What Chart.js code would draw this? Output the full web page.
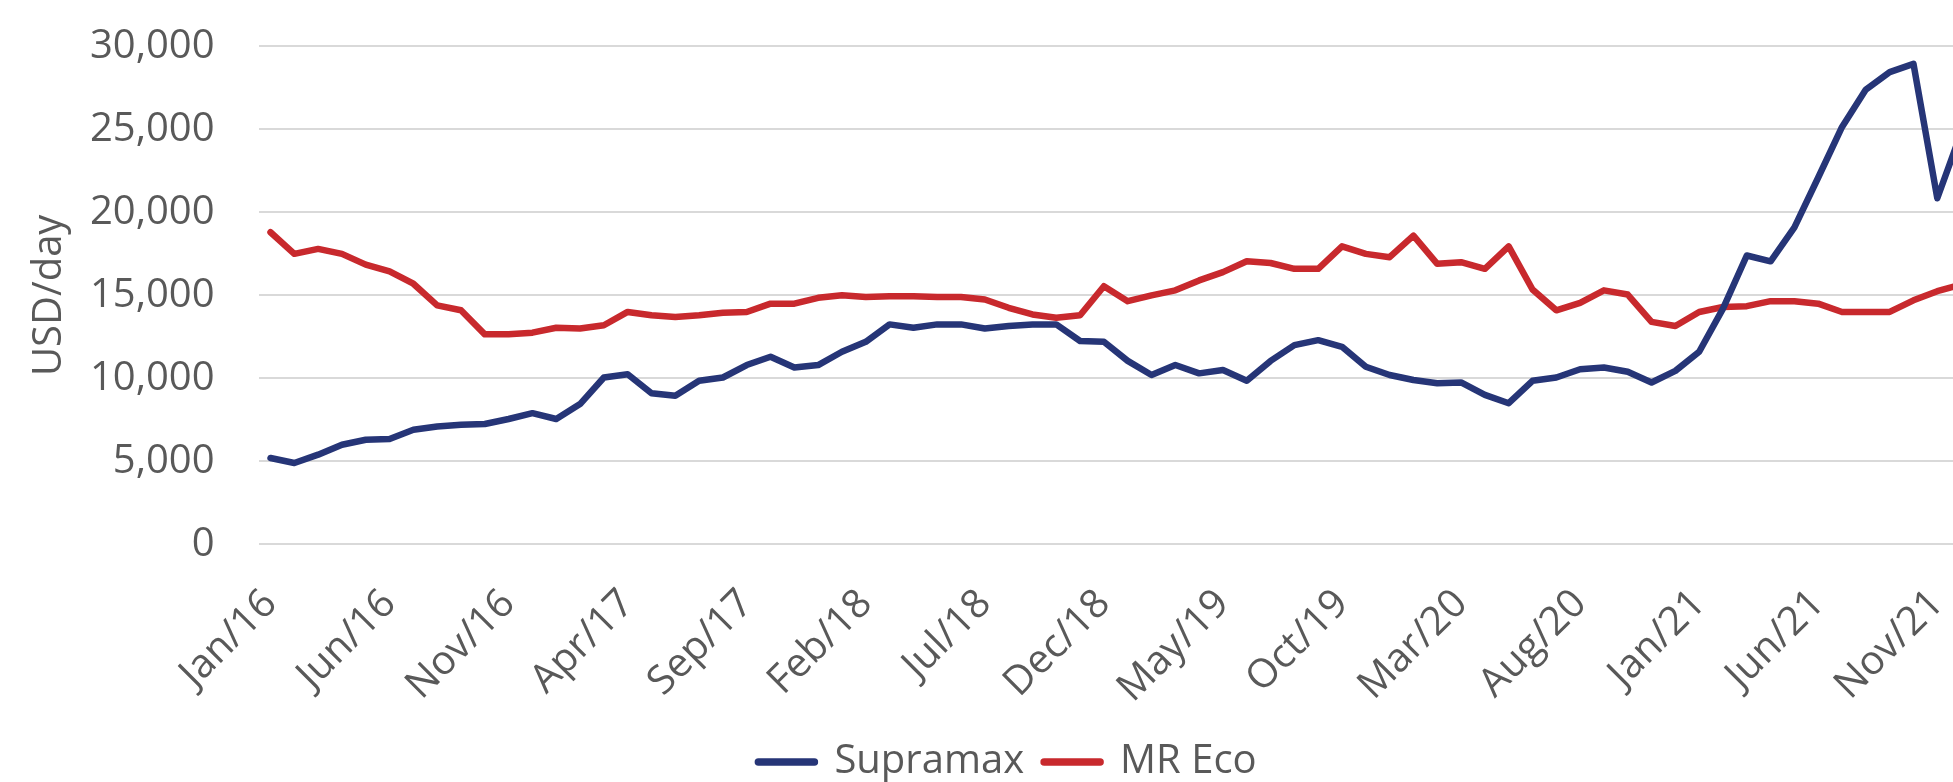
<!DOCTYPE html>
<html>
<head>
<meta charset="utf-8">
<script src="https://cdn.jsdelivr.net/npm/chart.js@4.4.1/dist/chart.umd.min.js"></script>
<style>
  html, body { margin: 0; padding: 0; background: #ffffff; overflow: hidden; }
  #wrap { width: 1953px; height: 782px; overflow: hidden; position: relative; }
  canvas { display: block; }
</style>
</head>
<body>
<div id="wrap"><canvas id="c" width="2015" height="800"></canvas></div>
<script>
// ---- data ----
const monthNames = ['Jan','Feb','Mar','Apr','May','Jun','Jul','Aug','Sep','Oct','Nov','Dec'];
const years = ['16','17','18','19','20','21'];
const categories = [];
for (const y of years) for (const m of monthNames) categories.push(m + '/' + y);

const supramax = [
  5200, 4900, 5400, 6000, 6300, 6350, 6900, 7100, 7200, 7250, 7550, 7900,
  7550, 8450, 10050, 10250, 9100, 8950, 9850, 10050, 10800, 11300, 10650, 10800,
  11600, 12200, 13250, 13050, 13250, 13250, 13000, 13150, 13250, 13250, 12250, 12200,
  11050, 10200, 10800, 10300, 10500, 9850, 11050, 12000, 12300, 11900, 10700, 10200,
  9900, 9700, 9750, 9000, 8500, 9850, 10050, 10550, 10650, 10400, 9750, 10450,
  11600, 14200, 17400, 17050, 19100, 22100, 25150, 27400, 28450, 28950, 20850, 24800
];
const mrEco = [
  18800, 17500, 17800, 17500, 16850, 16450, 15700, 14400, 14100, 12650, 12650, 12750,
  13050, 13000, 13200, 14000, 13800, 13700, 13800, 13950, 14000, 14500, 14500, 14850,
  15000, 14900, 14950, 14950, 14900, 14900, 14750, 14250, 13850, 13650, 13800, 15550,
  14650, 15000, 15300, 15900, 16400, 17050, 16950, 16600, 16600, 17950, 17500, 17300,
  18600, 16900, 17000, 16600, 17950, 15350, 14100, 14550, 15300, 15050, 13400, 13150,
  14000, 14300, 14350, 14650, 14650, 14500, 14000, 14000, 14000, 14700, 15250, 15650
];
const yTicks = [0, 5000, 10000, 15000, 20000, 25000, 30000];
const labelEvery = 5;

// ---- chart ----
const textColor = '#595959';
const fontFamily = '"Open Sans", Lato, sans-serif';
Chart.defaults.font.family = fontFamily;
Chart.defaults.color = textColor;

new Chart(document.getElementById('c'), {
  type: 'line',
  data: {
    labels: categories,
    datasets: [
      { label: 'Supramax', data: supramax, borderColor: '#263577', backgroundColor: '#263577',
        borderWidth: 6.5, pointRadius: 0, tension: 0, borderJoinStyle: 'round', borderCapStyle: 'round' },
      { label: 'MR Eco', data: mrEco, borderColor: '#c8292d', backgroundColor: '#c8292d',
        borderWidth: 6.5, pointRadius: 0, tension: 0, borderJoinStyle: 'round', borderCapStyle: 'round' }
    ]
  },
  options: {
    responsive: false,
    animation: false,
    layout: { padding: { top: 46.4, left: 0, right: 0, bottom: 8 } },
    plugins: {
      tooltip: { enabled: false },
      legend: {
        position: 'bottom',
        labels: {
          font: { size: 40 },
          color: textColor,
          usePointStyle: true,
          pointStyle: 'line',
          pointStyleWidth: 56,
          padding: 20,
          generateLabels: (chart) => {
            const items = Chart.defaults.plugins.legend.labels.generateLabels(chart);
            items.forEach(it => { it.lineWidth = 7.5; it.lineCap = 'round'; });
            return items;
          }
        }
      }
    },
    scales: {
      x: {
        type: 'category',
        offset: true,
        grid: { display: false, drawTicks: false },
        border: { display: false },
        ticks: {
          autoSkip: false,
          minRotation: 45,
          maxRotation: 45,
          padding: 36,
          font: { size: 40 },
          color: textColor,
          callback: (v, i) => (i % labelEvery === 0 ? categories[i] : null)
        },
        afterFit: (s) => { s.height = 177.7; }
      },
      y: {
        min: 0,
        max: 30000,
        afterBuildTicks: (s) => { s.ticks = yTicks.map(v => ({ value: v })); },
        grid: { color: '#d9d9d9', lineWidth: 2, drawTicks: true, tickLength: 44, tickColor: 'rgba(0,0,0,0)' },
        border: { display: false },
        ticks: {
          padding: 0,
          font: { size: 40 },
          color: textColor,
          callback: (v) => v.toLocaleString('en-US')
        },
        title: {
          display: true,
          text: 'USD/day',
          font: { size: 40 },
          color: textColor,
          padding: { top: 26, bottom: 0 }
        },
        afterFit: (s) => { s.width = 258.6; }
      },
      yPad: {
        type: 'linear',
        position: 'right',
        display: true,
        grid: { display: false, drawTicks: false },
        border: { display: false },
        ticks: { display: false },
        afterFit: (s) => { s.width = 42; }
      }
    }
  }
});
</script>
</body>
</html>
